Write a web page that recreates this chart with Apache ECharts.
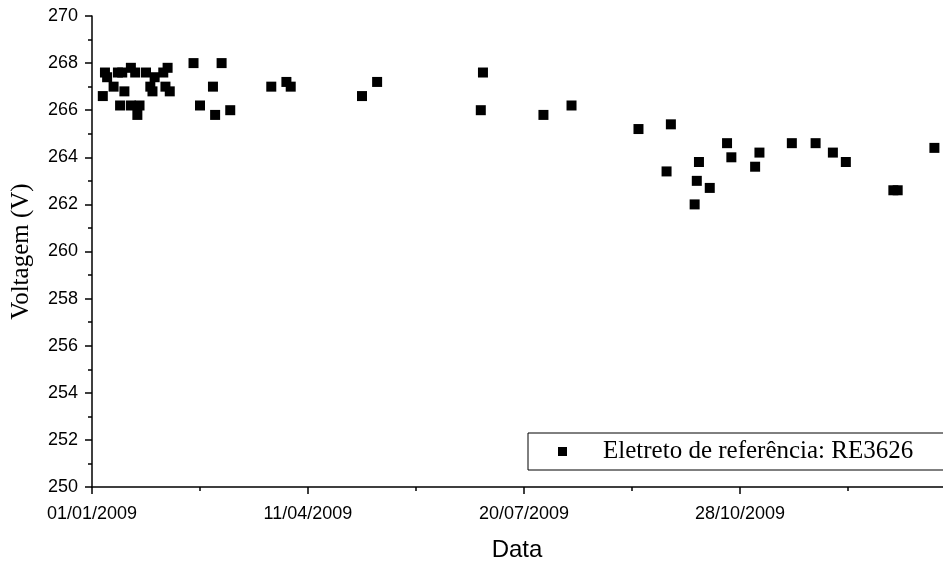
<!DOCTYPE html>
<html>
<head>
<meta charset="utf-8">
<script src="https://cdn.jsdelivr.net/npm/echarts@6/dist/echarts.min.js"></script>
<style>
  html, body { margin: 0; padding: 0; background: #fff; }
  #grafico { width: 943px; height: 562px; }
</style>
</head>
<body>
<div id="grafico"></div>
<script>
// datas das medições (aaaa-mm-dd)
var datas = [
  '2009-01-06','2009-01-07','2009-01-08','2009-01-11','2009-01-13','2009-01-14',
  '2009-01-15','2009-01-16','2009-01-19','2009-01-19','2009-01-21','2009-01-22',
  '2009-01-23','2009-01-26','2009-01-28','2009-01-29','2009-01-30','2009-02-03',
  '2009-02-04','2009-02-05','2009-02-06','2009-02-17','2009-02-20','2009-02-26',
  '2009-02-27','2009-03-02','2009-03-06','2009-03-25','2009-04-01','2009-04-03',
  '2009-05-06','2009-05-13','2009-06-30','2009-07-01','2009-07-29','2009-08-11',
  '2009-09-11','2009-09-24','2009-09-26','2009-10-07','2009-10-08','2009-10-09',
  '2009-10-14','2009-10-22','2009-10-24','2009-11-04','2009-11-06','2009-11-21',
  '2009-12-02','2009-12-10','2009-12-16','2010-01-07','2010-01-09','2010-01-26'
];
// voltagem medida (V)
var voltagem = [
  266.6, 267.6, 267.4, 267.0, 267.6, 266.2,
  267.6, 266.8, 267.8, 266.2, 267.6, 265.8,
  266.2, 267.6, 267.0, 266.8, 267.4, 267.6,
  267.0, 267.8, 266.8, 268.0, 266.2, 267.0,
  265.8, 268.0, 266.0, 267.0, 267.2, 267.0,
  266.6, 267.2, 266.0, 267.6, 265.8, 266.2,
  265.2, 263.4, 265.4, 262.0, 263.0, 263.8,
  262.7, 264.6, 264.0, 263.6, 264.2, 264.6,
  264.6, 264.2, 263.8, 262.6, 262.6, 264.4
];
var nomeSerie = 'Eletreto de referência: RE3626';
var inicio = Date.UTC(2009, 0, 1);
var fimDias = 400;      // fim da escala x (dias após 01/01/2009), cortado na borda
var passoDias = 100;    // intervalo dos rótulos do eixo x
var DIA = 86400000;

function paraDias(s) {
  var p = s.split('-');
  return (Date.UTC(+p[0], +p[1] - 1, +p[2]) - inicio) / DIA;
}
function rotulo(d) {
  var t = new Date(inicio + d * DIA);
  var dd = ('0' + t.getUTCDate()).slice(-2);
  var mm = ('0' + (t.getUTCMonth() + 1)).slice(-2);
  return dd + '/' + mm + '/' + t.getUTCFullYear();
}

var pontos = [];
for (var i = 0; i < datas.length; i++) {
  pontos.push([paraDias(datas[i]), voltagem[i]]);
}

var myChart = echarts.init(document.getElementById('grafico'));
var option = {
  animation: false,
  backgroundColor: '#fff',
  grid: { left: 92, width: 864, top: 16, bottom: 75, outerBoundsMode: 'none', containLabel: false },
  legend: {
    data: [nomeSerie],
    left: 528,
    top: 433,
    orient: 'vertical',
    icon: 'rect',
    itemWidth: 9,
    itemHeight: 9,
    borderColor: '#000',
    borderWidth: 1,
    padding: [6, 40, 6, 30],
    textStyle: {
      fontFamily: 'Liberation Serif',
      fontSize: 25,
      color: '#000',
      padding: [0, 0, 0, 31]
    }
  },
  xAxis: {
    type: 'value',
    min: 0,
    max: fimDias,
    interval: passoDias,
    name: 'Data',
    nameLocation: 'middle',
    nameGap: 51,
    nameTextStyle: { fontFamily: 'Liberation Sans', fontSize: 24, color: '#000', padding: [0, 14, 0, 0] },
    splitLine: { show: false },
    axisLine: { lineStyle: { color: '#000', width: 1.5 } },
    axisTick: { inside: false, length: 7, lineStyle: { color: '#000', width: 1.5 } },
    minorTick: { show: true, splitNumber: 2, length: 4, lineStyle: { color: '#000', width: 1.5 } },
    axisLabel: {
      color: '#000',
      fontFamily: 'Liberation Sans',
      fontSize: 18,
      margin: 18,
      showMaxLabel: false,
      formatter: function (v) { return v < fimDias ? rotulo(v) : ''; }
    }
  },
  yAxis: {
    type: 'value',
    min: 250,
    max: 270,
    interval: 2,
    name: 'Voltagem (V)',
    nameLocation: 'middle',
    nameGap: 58,
    nameTextStyle: { fontFamily: 'Liberation Serif', fontSize: 25, color: '#000' },
    splitLine: { show: false },
    axisLine: { show: true, lineStyle: { color: '#000', width: 1.5 } },
    axisTick: { show: true, inside: false, length: 7, lineStyle: { color: '#000', width: 1.5 } },
    minorTick: { show: true, splitNumber: 2, length: 4, lineStyle: { color: '#000', width: 1.5 } },
    axisLabel: {
      color: '#000',
      fontFamily: 'Liberation Sans',
      fontSize: 18,
      margin: 14
    }
  },
  series: [{
    name: nomeSerie,
    type: 'scatter',
    symbol: 'rect',
    symbolSize: 10,
    itemStyle: { color: '#000', opacity: 1 },
    data: pontos
  }]
};
myChart.setOption(option);
</script>
</body>
</html>
